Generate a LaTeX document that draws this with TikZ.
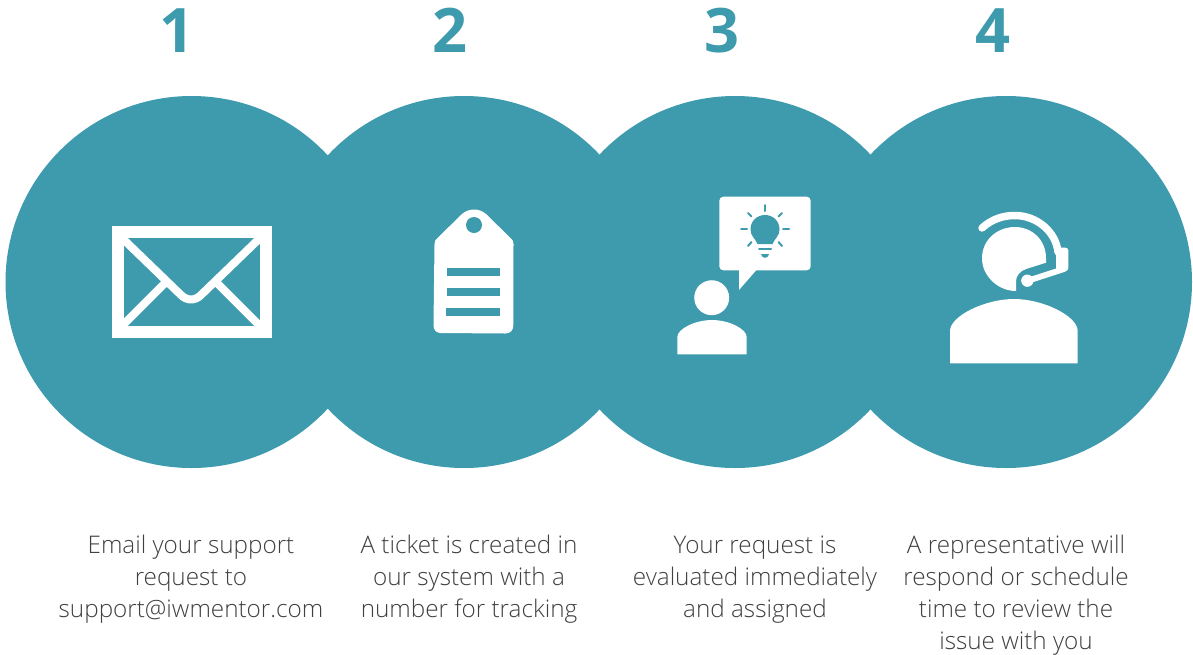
\documentclass[tikz,border=0pt]{standalone}
\usepackage{fontspec}
\setmainfont{Open Sans Light}
\newfontfamily\numfont{Open Sans}
\definecolor{teal0}{HTML}{3E9AAD}
\definecolor{txt0}{HTML}{404040}
\newcommand{\lineup}{\vphantom{lg}}
\tikzset{
  disc/.style={circle,fill=teal0,draw=none,inner sep=0pt,minimum size=279pt},
  numlabel/.style={text=teal0,font=\numfont\bfseries\fontsize{46}{46}\selectfont,anchor=base,inner sep=0pt},
  caption/.style={text=txt0,font=\fontsize{18.2}{24}\selectfont,align=center,anchor=north,inner sep=0pt},
  wfill/.style={fill=white,draw=none},
  tfill/.style={fill=teal0,draw=none},
  wline/.style={draw=white,line cap=butt},
  tray/.style={draw=teal0,line width=1.5pt,line cap=round}
}
\begin{document}
\begin{tikzpicture}[x=0.75pt,y=-0.75pt]
\useasboundingbox (0,0) rectangle (1193,654);
% discs
\node[disc] (c1) at (191.5,282) {};
\node[disc] (c2) at (464,282) {};
\node[disc] (c3) at (735,282) {};
\node[disc] (c4) at (1006,282) {};
% numbers
\node[numlabel] (n1) at (177.5,52) {1};
\node[numlabel] (n2) at (450.5,52) {2};
\node[numlabel] (n3) at (721.5,52) {3};
\node[numlabel] (n4) at (993,52) {4};
% captions
\node[caption] (t1) at (191,535) {\lineup Email your support\\request to\\support@iwmentor.com};
\node[caption] (t2) at (469,535) {\lineup A ticket is created in\\our system with a\\number for tracking};
\node[caption] (t3) at (755,535) {\lineup Your request is\\evaluated immediately\\and assigned};
\node[caption] (t4) at (1016,535) {\lineup A representative will\\respond or schedule\\time to review the\\issue with you};
% envelope
\draw[wline,line width=9pt] (117.7,232) rectangle (265.7,332);
\draw[wline,line width=6pt,line join=round] (122,238) -- (181,295)
  .. controls (187,301) and (195,301) .. (201,295) -- (260,238);
\draw[wline,line width=6pt] (122,326) -- (168,280);
\draw[wline,line width=6pt] (260,326) -- (214,280);
% tag
\path[wfill] (433.5,325) -- (434.5,244) .. controls (434.5,241) and (435.5,240) .. (437,238.5)
  -- (462,214) .. controls (469,208) and (479,208) .. (486,214)
  -- (511,238.5) .. controls (512.5,240) and (513.5,241) .. (513.5,244)
  -- (513.3,325) .. controls (513.3,331) and (510,333.5) .. (505,333.5)
  -- (441,333) .. controls (436,333) and (433.5,330) .. (433.5,325) -- cycle;
\path[tfill] (474,225) circle (6pt);
\path[tfill] (446.7,268.3) rectangle (500.3,276.3);
\path[tfill] (446.5,288) rectangle (500,296);
\path[tfill] (446.3,307.7) rectangle (499.8,315.7);
% person with idea
\path[wfill,rounded corners=3pt] (719.3,196.7) -- (810.7,196.7) -- (810.7,270.3) -- (719.3,270.3) -- cycle;
\path[wfill] (739,269) -- (739,290) -- (757.3,269) -- cycle;
\path[wfill] (711.7,297.7) circle (13.1pt);
\path[wfill] (677.3,354.3) -- (677.3,337) .. controls (677.3,329) and (695,320) .. (712,320)
  .. controls (729,320) and (746.7,329) .. (746.7,337) -- (746.7,354.3) -- cycle;
% bulb
\path[tfill] (757.5,244) .. controls (755,238) and (750.5,236) .. (750.5,229.3)
  .. controls (750.5,221) and (757,215) .. (765,215)
  .. controls (773,215) and (779.5,221) .. (779.5,229.3)
  .. controls (779.5,236) and (775,238) .. (772.5,244) -- cycle;
\draw[draw=teal0,line width=1.5pt,line cap=round] (759,249.3) -- (771,249.3);
\path[tfill] (761,254) -- (769,254) .. controls (768.5,256.5) and (767,257.8) .. (765,257.8)
  .. controls (763,257.8) and (761.5,256.5) .. (761,254) -- cycle;
\draw[tray] (765,205) -- (765,211);
\draw[tray] (741,229.3) -- (747,229.3);
\draw[tray] (783,229.3) -- (789,229.3);
\draw[tray] (748,213) -- (751.5,216.5);
\draw[tray] (782,213) -- (778.5,216.5);
\draw[tray] (748,246) -- (751.5,242);
\draw[tray] (782,246) -- (778.5,242);
% agent
\path[wfill] (1016,291) .. controls (998,291) and (982,276) .. (982,258.3)
  .. controls (982,240) and (997,227) .. (1015,227)
  .. controls (1032,227) and (1046,240) .. (1046,258) -- (1046,262.7)
  -- (1026,269) .. controls (1020,271) and (1016,276) .. (1016,281) -- cycle;
\draw[draw=white,line width=5.6pt,line cap=round] (982,228)
  .. controls (992,219) and (1003,215.5) .. (1015,215.5)
  .. controls (1037,215.5) and (1056,232) .. (1058,252);
\path[wfill,rounded corners=2pt] (1056,247.7) -- (1068.3,247.7) -- (1068.3,271) -- (1056,271) -- cycle;
\draw[draw=white,line width=4.4pt,line cap=round] (1064,269) -- (1027,281);
\path[wfill] (1027.3,280.7) circle (4.6pt);
\path[wfill] (950,363.3) -- (950,331) .. controls (950,316) and (985,299) .. (1014,299)
  .. controls (1043,299) and (1077.7,316) .. (1077.7,331) -- (1077.7,363.3) -- cycle;
\end{tikzpicture}
\end{document}
